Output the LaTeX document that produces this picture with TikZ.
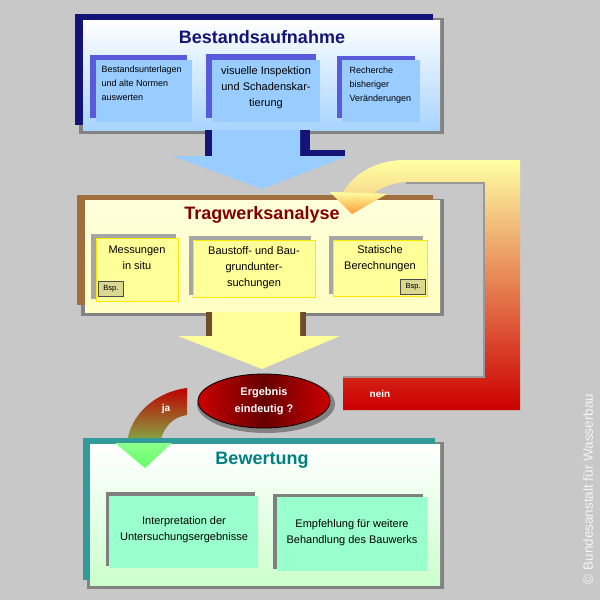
\documentclass[tikz,border=0pt]{standalone}
\usepackage{fontspec}
\setmainfont{Liberation Sans}
\usetikzlibrary{shapes.geometric}
\definecolor{bg}{RGB}{200,200,200}
\definecolor{navy}{RGB}{20,20,120}
\definecolor{lblue}{RGB}{153,204,255}
\definecolor{purp}{RGB}{90,90,220}
\definecolor{brown1}{RGB}{160,110,60}
\definecolor{lyel}{RGB}{255,255,153}
\definecolor{dred}{RGB}{130,0,0}
\definecolor{teal1}{RGB}{0,128,128}
\definecolor{mint}{RGB}{153,255,204}
\tikzset{
  pbox/.style={anchor=north west,inner sep=0pt,align=center},
  shad/.style={fill=black,opacity=0.35},
  ttl/.style={font=\fontsize{18}{20}\selectfont\bfseries},
  sub/.style={font=\fontsize{11}{16}\selectfont,align=center},
  smalltxt/.style={font=\fontsize{9}{14}\selectfont,align=left,anchor=north west},
  bsp/.style={draw=black!70,line width=1pt,fill=lyel!70!gray,font=\fontsize{7.5}{8}\selectfont,inner sep=1.5pt,minimum width=25,minimum height=15},
}
\begin{document}
\begin{tikzpicture}[x=1pt,y=-1pt]
\fill[bg] (0,0) rectangle (600,600);
\useasboundingbox (0,0) rectangle (600,600);
% ---------- top panel
\fill[shad] (79,18) rectangle (444,134);
\fill[navy] (75,14) rectangle (433,125);
\node[pbox,minimum width=357,minimum height=110,top color=white,bottom color=lblue!85] (p1) at (83,20) {};
\node[ttl,text=navy] (t1) at (262,37) {Bestandsaufnahme};
\fill[purp] (90,55) rectangle (187,118);
\node[pbox,fill=lblue,minimum width=96,minimum height=62] (a1) at (96,60) {};
\node[smalltxt] at (98,62) {Bestandsunterlagen\\und alte Normen\\auswerten};
\fill[purp] (206,54) rectangle (316,118);
\node[pbox,fill=lblue,minimum width=108,minimum height=62] (a2) at (212,60) {};
\node[sub] at (266,88) {visuelle Inspektion\\und Schadenskar-\\tierung};
\fill[purp] (337,56) rectangle (415,118);
\node[pbox,fill=lblue,minimum width=78,minimum height=62] (a3) at (342,60) {};
\node[smalltxt] at (346,63) {Recherche\\bisheriger\\Veränderungen};
% blue arrow
\fill[navy] (205,130) rectangle (310,156);
\fill[navy] (310,150) rectangle (345,156);
\fill[lblue] (212,130) -- (300,130) -- (300,156) -- (348,156) -- (262,189) -- (172,156) -- (212,156) -- cycle;
% ---------- feedback (nein) band
\shade[top color=lyel!90!white,bottom color=red!80!black]
  (343,378) -- (485,378) -- (485,182) -- (405,182)
  .. controls (392,183) and (380,188) .. (374,193)
  -- (387,194) -- (352,214) -- (330,192) -- (343,192)
  .. controls (355,172) and (378,160) .. (405,160)
  -- (520,160) -- (520,410) -- (343,410) -- cycle;
\draw[black!40,line width=1.5pt] (343,377) -- (484,377) -- (484,183) -- (406,183);
\node[font=\bfseries\fontsize{10}{12}\selectfont,text=white] (nein) at (380,394) {nein};
% ---------- middle panel
\fill[shad] (81,199) rectangle (444,316);
\fill[brown1] (77,195) rectangle (433,305);
\node[pbox,minimum width=355,minimum height=112,top color=lyel!35!white,bottom color=lyel!60!white] (p2) at (85,200) {};
\shade[top color=lyel!90!white,bottom color=orange!80] (330,192) -- (387,194) -- (352,214) -- cycle;
\node[ttl,text=dred] (t2) at (262,215) {Tragwerksanalyse};
\fill[black!35] (91,234) rectangle (176,299);
\node[pbox,fill=lyel,draw=yellow!90!orange,minimum width=82,minimum height=63] (m1) at (96,238) {};
\node[sub] at (137,258) {Messungen\\in situ};
\node[bsp] (bsp1) at (111,289) {Bsp.};
\fill[black!35] (189,236) rectangle (311,295);
\node[pbox,fill=lyel,draw=yellow!90!orange,minimum width=122,minimum height=57] (m2) at (193,240) {};
\node[sub] at (254,268) {Baustoff- und Bau-\\grundunter-\\suchungen};
\fill[black!35] (329,236) rectangle (423,294);
\node[pbox,fill=lyel,draw=yellow!90!orange,minimum width=94,minimum height=56] (m3) at (333,240) {};
\node[sub] at (380,259) {Statische\\Berechnungen};
\node[bsp] (bsp2) at (413,287) {Bsp.};
% yellow arrow
\fill[brown1!70!black] (206,312) rectangle (306,336);
\fill[lyel] (212,312) -- (300,312) -- (300,336) -- (340,336) -- (262,369) -- (178,336) -- (212,336) -- cycle;
% ---------- ja arrow
\shade[top color=red!75!black,bottom color=green!60!white]
  (187,388) .. controls (155,392) and (130,415) .. (127,443)
  -- (115,443) -- (145,468) -- (172,443) -- (160,443)
  .. controls (163,428) and (172,417) .. (187,415) -- cycle;
\node[font=\bfseries\fontsize{10}{12}\selectfont,text=white] (ja) at (166,409) {ja};
% ---------- ellipse
\fill[black,opacity=0.35] (266,404) ellipse (69 and 29);
\node[ellipse,draw=black,line width=0.8pt,minimum width=132,minimum height=54,left color=red!80!black,right color=red!80!black,middle color=black!60!red,text=white,font=\bfseries\fontsize{11}{17}\selectfont,align=center] (e) at (264,401) {Ergebnis\\eindeutig ?};
% ---------- bottom panel
\fill[shad] (87,442) rectangle (444,589);
\fill[teal1!80!white] (83,438) rectangle (435,580);
\node[pbox,minimum width=350,minimum height=141,top color=white,bottom color=green!20!white] (p3) at (90,444) {};
\shade[top color=green!45!white,bottom color=green!60!white] (115,443) -- (172,443) -- (145,468) -- cycle;
\node[ttl,text=teal1] (t3) at (262,460) {Bewertung};
\fill[black!50] (106,492) rectangle (255,566);
\node[pbox,fill=mint,minimum width=149,minimum height=72] (b1) at (109,496) {};
\node[sub] at (184,530) {Interpretation der\\Untersuchungsergebnisse};
\fill[black!50] (273,494) rectangle (423,569);
\node[pbox,fill=mint,minimum width=150,minimum height=74] (b2) at (277,497) {};
\node[sub] at (352,533) {Empfehlung für weitere\\Behandlung des Bauwerks};
% copyright
\node[rotate=90,text=white!92!gray,font=\fontsize{13.5}{15}\selectfont] (cr) at (588,489) {© Bundesanstalt für Wasserbau};
\end{tikzpicture}
\end{document}
